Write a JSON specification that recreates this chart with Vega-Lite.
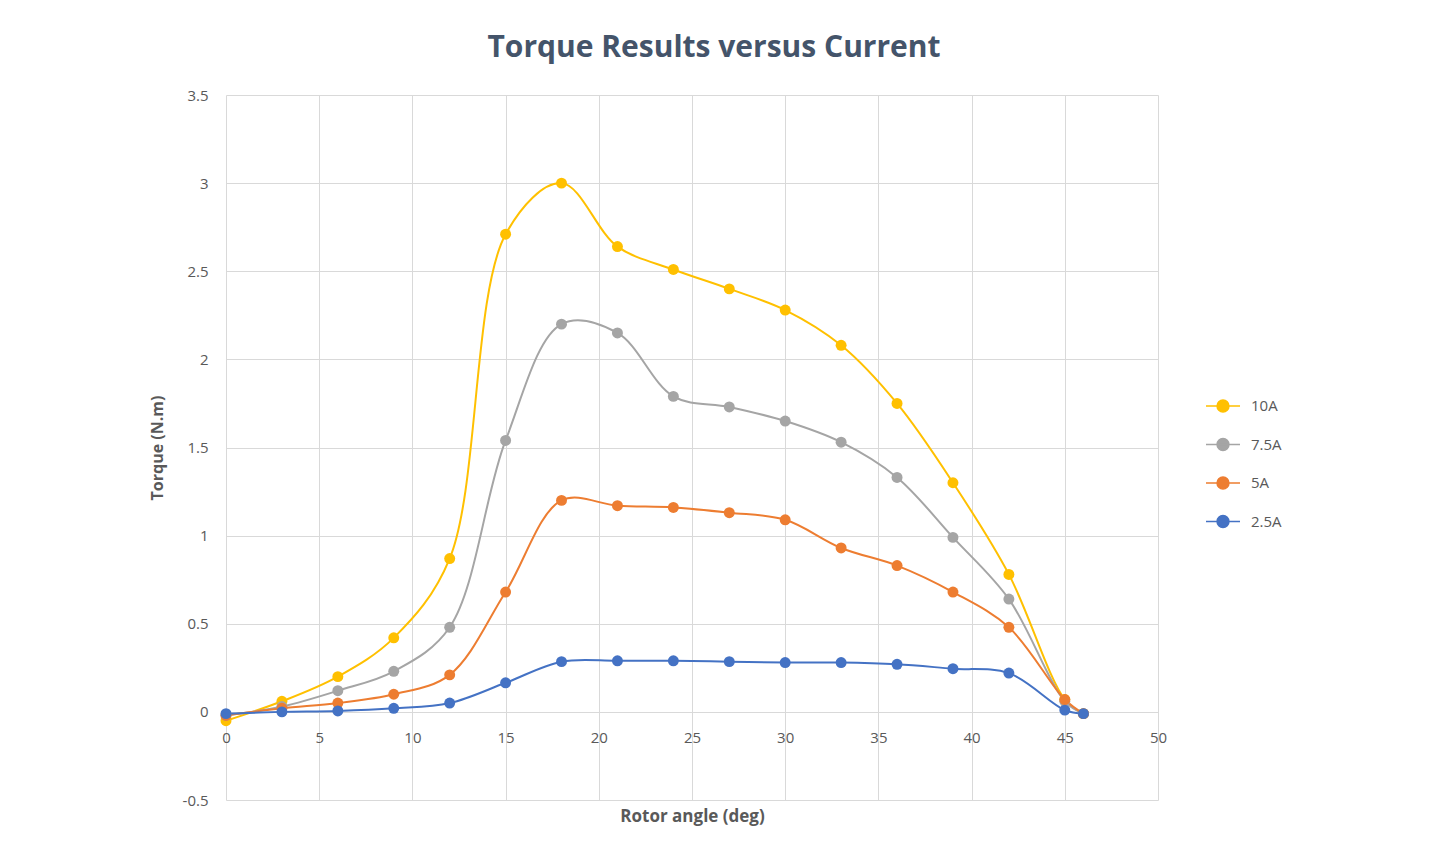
{
  "$schema": "https://vega.github.io/schema/vega-lite/v6.json",
  "width": 932,
  "height": 705,
  "autosize": "none",
  "padding": {"left": 226, "top": 95, "right": 277, "bottom": 52},
  "background": "white",
  "title": {
    "text": "Torque Results versus Current",
    "font": "Open Sans",
    "fontSize": 30,
    "fontWeight": "bold",
    "color": "#44546A",
    "anchor": "middle",
    "dx": 22,
    "offset": 25
  },
  "config": {
    "font": "Open Sans",
    "view": {"stroke": null},
    "locale": {"number": {"decimal": ".", "thousands": ",", "grouping": [3], "currency": ["$", ""], "minus": "-"}}
  },
  "data": {
    "values": [
      {"angle": 0, "torque": -0.05, "current": "10A"},
      {"angle": 3, "torque": 0.06, "current": "10A"},
      {"angle": 6, "torque": 0.2, "current": "10A"},
      {"angle": 9, "torque": 0.42, "current": "10A"},
      {"angle": 12, "torque": 0.87, "current": "10A"},
      {"angle": 15, "torque": 2.71, "current": "10A"},
      {"angle": 18, "torque": 3.0, "current": "10A"},
      {"angle": 21, "torque": 2.64, "current": "10A"},
      {"angle": 24, "torque": 2.51, "current": "10A"},
      {"angle": 27, "torque": 2.4, "current": "10A"},
      {"angle": 30, "torque": 2.28, "current": "10A"},
      {"angle": 33, "torque": 2.08, "current": "10A"},
      {"angle": 36, "torque": 1.75, "current": "10A"},
      {"angle": 39, "torque": 1.3, "current": "10A"},
      {"angle": 42, "torque": 0.78, "current": "10A"},
      {"angle": 45, "torque": 0.07, "current": "10A"},
      {"angle": 46, "torque": -0.01, "current": "10A"},
      {"angle": 0, "torque": -0.02, "current": "7.5A"},
      {"angle": 3, "torque": 0.03, "current": "7.5A"},
      {"angle": 6, "torque": 0.12, "current": "7.5A"},
      {"angle": 9, "torque": 0.23, "current": "7.5A"},
      {"angle": 12, "torque": 0.48, "current": "7.5A"},
      {"angle": 15, "torque": 1.54, "current": "7.5A"},
      {"angle": 18, "torque": 2.2, "current": "7.5A"},
      {"angle": 21, "torque": 2.15, "current": "7.5A"},
      {"angle": 24, "torque": 1.79, "current": "7.5A"},
      {"angle": 27, "torque": 1.73, "current": "7.5A"},
      {"angle": 30, "torque": 1.65, "current": "7.5A"},
      {"angle": 33, "torque": 1.53, "current": "7.5A"},
      {"angle": 36, "torque": 1.33, "current": "7.5A"},
      {"angle": 39, "torque": 0.99, "current": "7.5A"},
      {"angle": 42, "torque": 0.64, "current": "7.5A"},
      {"angle": 45, "torque": 0.06, "current": "7.5A"},
      {"angle": 46, "torque": -0.01, "current": "7.5A"},
      {"angle": 0, "torque": -0.02, "current": "5A"},
      {"angle": 3, "torque": 0.02, "current": "5A"},
      {"angle": 6, "torque": 0.05, "current": "5A"},
      {"angle": 9, "torque": 0.1, "current": "5A"},
      {"angle": 12, "torque": 0.21, "current": "5A"},
      {"angle": 15, "torque": 0.68, "current": "5A"},
      {"angle": 18, "torque": 1.2, "current": "5A"},
      {"angle": 21, "torque": 1.17, "current": "5A"},
      {"angle": 24, "torque": 1.16, "current": "5A"},
      {"angle": 27, "torque": 1.13, "current": "5A"},
      {"angle": 30, "torque": 1.09, "current": "5A"},
      {"angle": 33, "torque": 0.93, "current": "5A"},
      {"angle": 36, "torque": 0.83, "current": "5A"},
      {"angle": 39, "torque": 0.68, "current": "5A"},
      {"angle": 42, "torque": 0.48, "current": "5A"},
      {"angle": 45, "torque": 0.07, "current": "5A"},
      {"angle": 46, "torque": -0.01, "current": "5A"},
      {"angle": 0, "torque": -0.01, "current": "2.5A"},
      {"angle": 3, "torque": 0.0, "current": "2.5A"},
      {"angle": 6, "torque": 0.005, "current": "2.5A"},
      {"angle": 9, "torque": 0.02, "current": "2.5A"},
      {"angle": 12, "torque": 0.05, "current": "2.5A"},
      {"angle": 15, "torque": 0.165, "current": "2.5A"},
      {"angle": 18, "torque": 0.285, "current": "2.5A"},
      {"angle": 21, "torque": 0.29, "current": "2.5A"},
      {"angle": 24, "torque": 0.29, "current": "2.5A"},
      {"angle": 27, "torque": 0.285, "current": "2.5A"},
      {"angle": 30, "torque": 0.28, "current": "2.5A"},
      {"angle": 33, "torque": 0.28, "current": "2.5A"},
      {"angle": 36, "torque": 0.27, "current": "2.5A"},
      {"angle": 39, "torque": 0.245, "current": "2.5A"},
      {"angle": 42, "torque": 0.22, "current": "2.5A"},
      {"angle": 45, "torque": 0.01, "current": "2.5A"},
      {"angle": 46, "torque": -0.01, "current": "2.5A"}
    ]
  },
  "encoding": {
    "x": {
      "field": "angle",
      "type": "quantitative",
      "scale": {"domain": [0, 50], "nice": false, "zero": false},
      "axis": {
        "title": "Rotor angle (deg)",
        "values": [0, 5, 10, 15, 20, 25, 30, 35, 40, 45, 50],
        "offset": -88,
        "domain": false,
        "ticks": false,
        "labelFlush": false,
        "labelPadding": 18,
        "labelFontSize": 15,
        "labelColor": "#595959",
        "grid": true,
        "gridColor": "#D9D9D9",
        "titleFontSize": 17,
        "titleFontWeight": "bold",
        "titleColor": "#595959",
        "titlePadding": 63
      }
    },
    "y": {
      "field": "torque",
      "type": "quantitative",
      "scale": {"domain": [-0.5, 3.5], "nice": false, "zero": false},
      "axis": {
        "title": "Torque (N.m)",
        "values": [-0.5, 0, 0.5, 1, 1.5, 2, 2.5, 3, 3.5],
        "format": ".1~f",
        "domain": false,
        "ticks": false,
        "labelFlush": false,
        "labelPadding": 18,
        "labelFontSize": 15,
        "labelColor": "#595959",
        "grid": true,
        "gridColor": "#D9D9D9",
        "titleFontSize": 16,
        "titleFontWeight": "bold",
        "titleColor": "#595959",
        "titlePadding": 17
      }
    },
    "color": {
      "field": "current",
      "type": "nominal",
      "sort": ["10A", "7.5A", "5A", "2.5A"],
      "scale": {"domain": ["10A", "7.5A", "5A", "2.5A"], "range": ["#FFC000", "#A5A5A5", "#ED7D31", "#4472C4"]},
      "legend": {
        "title": null,
        "orient": "none",
        "legendX": 979,
        "legendY": 293,
        "symbolType": "M-1,0H-0.35A0.35,0.35,0,1,1,0.35,0H1M0.35,0A0.35,0.35,0,1,1,-0.35,0Z",
        "symbolSize": 1156,
        "symbolStrokeWidth": 2,
        "rowPadding": 11.5,
        "labelOffset": 10,
        "labelFontSize": 15,
        "labelColor": "#595959",
        "encode": {
          "symbols": {
            "update": {
              "fill": {"scale": "color", "field": "value"},
              "stroke": {"scale": "color", "field": "value"},
              "strokeWidth": {"value": 1.5},
              "opacity": {"value": 1}
            }
          }
        }
      }
    }
  },
  "layer": [
    {"mark": {"type": "line", "interpolate": "catmull-rom", "strokeWidth": 2}},
    {"mark": {"type": "point", "filled": true, "size": 120, "opacity": 1}}
  ]
}
